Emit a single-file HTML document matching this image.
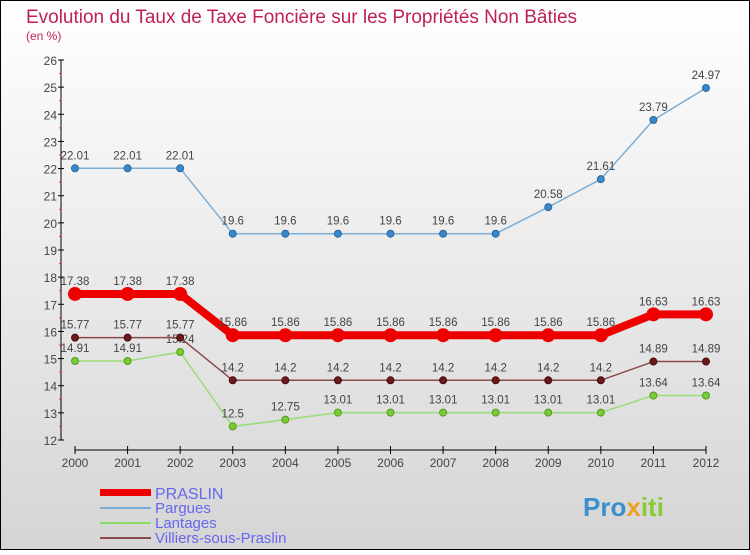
<!DOCTYPE html>
<html><head><meta charset="utf-8"><style>
html,body{margin:0;padding:0}
body{width:750px;height:550px;overflow:hidden;font-family:"Liberation Sans",sans-serif}
</style></head><body>
<svg id="c" width="750" height="550" xmlns="http://www.w3.org/2000/svg">
<defs><linearGradient id="bg" x1="0" y1="0" x2="0" y2="1"><stop offset="0" stop-color="#ffffff"/><stop offset="1" stop-color="#d5d5d5"/></linearGradient></defs>
<rect x="0.5" y="0.5" width="749" height="549" fill="url(#bg)" stroke="#000"/>
<text x="26" y="23" font-size="19" fill="#c0205a" textLength="551">Evolution du Taux de Taxe Foncière sur les Propriétés Non Bâties</text>
<text x="26" y="40" font-size="12" fill="#c0205a">(en %)</text>
<g id="axes"></g><g id="series"></g>
<g>
<rect x="100" y="489" width="51" height="7" fill="#e00"/>
<text x="155" y="499" font-size="16" fill="#6666ee">PRASLIN</text>
<line x1="100" y1="508" x2="151" y2="508" stroke="#7aaed6" stroke-width="2"/>
<text x="155" y="513" font-size="15" fill="#6666ee">Pargues</text>
<line x1="100" y1="523" x2="151" y2="523" stroke="#88dd66" stroke-width="2"/>
<text x="155" y="528" font-size="15" fill="#6666ee">Lantages</text>
<line x1="100" y1="538" x2="151" y2="538" stroke="#8a4a4a" stroke-width="2"/>
<text x="155" y="543" font-size="15" fill="#6666ee">Villiers-sous-Praslin</text>
</g>
<text x="583" y="516" font-size="26" font-weight="bold" fill="#3a8fd0">Pro<tspan fill="#f0a020">x</tspan><tspan fill="#88cc33">iti</tspan></text>
</svg>
<script>
const years=[2000,2001,2002,2003,2004,2005,2006,2007,2008,2009,2010,2011,2012];
const yTicks=[12,13,14,15,16,17,18,19,20,21,22,23,24,25,26];
const praslin=[17.38,17.38,17.38,15.86,15.86,15.86,15.86,15.86,15.86,15.86,15.86,16.63,16.63];
const pargues=[22.01,22.01,22.01,19.6,19.6,19.6,19.6,19.6,19.6,20.58,21.61,23.79,24.97];
const lantages=[14.91,14.91,15.24,12.5,12.75,13.01,13.01,13.01,13.01,13.01,13.01,13.64,13.64];
const villiers=[15.77,15.77,15.77,14.2,14.2,14.2,14.2,14.2,14.2,14.2,14.2,14.89,14.89];
const NS="http://www.w3.org/2000/svg";
const x=i=>75+i*(706-75)/(years.length-1);
const y=v=>440-(v-12)*(380/14);
function mk(t,a,p){const e=document.createElementNS(NS,t);for(const k in a)e.setAttribute(k,a[k]);p.appendChild(e);return e;}
const ax=document.getElementById('axes');
const yl=mk('line',{x1:61,y1:60,x2:61,y2:440,stroke:'#000'},ax);


yTicks.forEach(v=>{
 mk('line',{x1:58,y1:y(v),x2:64,y2:y(v),stroke:'#000'},ax);
 if(v<26)mk('line',{x1:59,y1:y(v+0.5),x2:61,y2:y(v+0.5),stroke:'#e33'},ax);
 const t=mk('text',{x:57,y:y(v)+5,'font-size':12,'text-anchor':'end',fill:'#444'},ax);t.textContent=v;
 
 
});
const xl=mk('line',{x1:75,y1:450,x2:706,y2:450,stroke:'#000'},ax);


years.forEach((yr,i)=>{
 mk('line',{x1:x(i),y1:446,x2:x(i),y2:454,stroke:'#000'},ax);
 const t=mk('text',{x:x(i),y:467,'font-size':12,'text-anchor':'middle',fill:'#444'},ax);t.textContent=yr;
 
 
});
const sg=document.getElementById('series');
function draw(vals,name,col,w,r,dot,stroke){
 const g=mk('g',{},sg);
 
 
 const p=mk('polyline',{points:vals.map((v,i)=>x(i)+','+y(v)).join(' '),fill:'none',stroke:col,'stroke-width':w,'stroke-linejoin':'round'},g);
 
 
 vals.forEach((v,i)=>{
  const c=mk('circle',{cx:x(i),cy:y(v),r:r,fill:dot,stroke:stroke,'stroke-width':1},g);
  
  
  const t=mk('text',{x:x(i),y:y(v)-9,'font-size':11.5,'text-anchor':'middle',fill:'#444'},g);t.textContent=String(v);
  
  
 });
}
draw(pargues,'pargues','#7aaed6',1.5,3.5,'#3a88cc','#2a6699');
draw(lantages,'lantages','#99dd77',1.5,3.5,'#77cc33','#559922');
draw(villiers,'villiers','#8a4a4a',1.5,3.5,'#6a1a1a','#4a0a0a');
draw(praslin,'praslin','#ee0000',8,6.5,'#ee0000','#ee0000');
</script>
</body></html>
